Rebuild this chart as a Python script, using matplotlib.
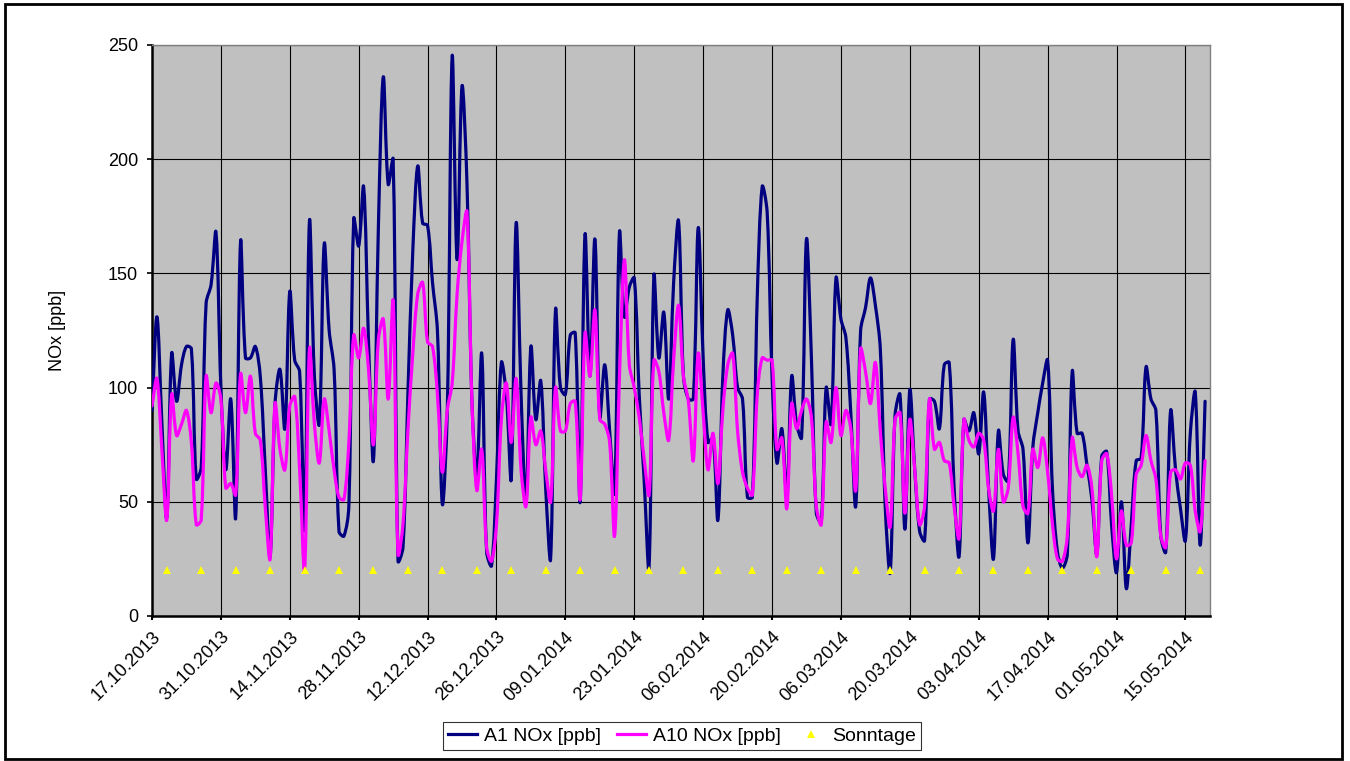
import numpy as np
import pandas as pd
import matplotlib
matplotlib.use('Agg')
import matplotlib.pyplot as plt
import matplotlib.dates as mdates
from matplotlib.path import Path
from matplotlib.patches import PathPatch, Rectangle
from matplotlib.lines import Line2D

plt.rcParams['font.family'] = ['Liberation Sans', 'DejaVu Sans']

# ---------------- data ----------------
start_date = '2013-10-17'

a1_nox = [
    90, 131, 85, 43, 115, 94, 110, 118, 117, 60,
    65, 137, 145, 168, 100, 64, 95, 43, 164, 113,
    113, 118, 105, 65, 26, 93, 108, 82, 142, 112,
    107, 38, 173, 105, 84, 163, 125, 108, 37, 35,
    48, 174, 162, 188, 120, 68, 170, 236, 189, 200,
    24, 30, 97, 160, 197, 172, 171, 146, 125, 49,
    89, 245, 156, 232, 190, 95, 61, 115, 28, 22,
    60, 111, 97, 60, 172, 97, 50, 118, 86, 103,
    56, 25, 134, 100, 97, 123, 124, 50, 167, 105,
    165, 87, 110, 81, 54, 168, 131, 144, 148, 97,
    60, 21, 149, 113, 133, 95, 146, 173, 105, 95,
    95, 170, 113, 76, 78, 42, 105, 134, 123, 100,
    95, 52, 52, 140, 188, 177, 105, 67, 82, 52,
    105, 84, 78, 165, 113, 45, 41, 100, 84, 148,
    130, 122, 89, 48, 125, 135, 148, 136, 117, 48,
    19, 88, 97, 38, 99, 64, 37, 33, 95, 94,
    82, 110, 111, 56, 26, 86, 81, 89, 71, 98,
    56, 25, 81, 62, 59, 121, 81, 73, 32, 74,
    89, 102, 112, 55, 28, 21, 27, 107, 80, 80,
    66, 51, 27, 70, 72, 40, 19, 50, 12, 40,
    68, 69, 109, 95, 90, 35, 28, 90, 64, 47,
    33, 80, 98, 31, 94,
]

a10_nox = [
    92, 104, 73, 42, 97, 79, 84, 90, 76, 40,
    42, 105, 89, 102, 95, 56, 58, 53, 106, 89,
    105, 80, 77, 48, 25, 93, 73, 64, 92, 96,
    64, 20, 117, 84, 67, 95, 81, 64, 52, 51,
    76, 123, 113, 126, 108, 75, 121, 130, 95, 138,
    27, 40, 81, 115, 141, 146, 120, 118, 97, 63,
    90, 102, 141, 164, 177, 95, 55, 73, 30, 24,
    40, 86, 102, 76, 104, 64, 48, 87, 75, 81,
    64, 50, 100, 81, 81, 93, 94, 51, 124, 105,
    134, 86, 84, 76, 35, 105, 156, 110, 100, 87,
    69, 53, 112, 107, 89, 77, 112, 136, 105, 94,
    68, 115, 89, 64, 80, 58, 90, 110, 115, 81,
    63, 56, 53, 97, 113, 112, 112, 73, 78, 47,
    93, 82, 90, 95, 87, 48, 40, 85, 76, 100,
    79, 90, 82, 55, 117, 107, 93, 111, 81, 56,
    39, 86, 89, 45, 86, 64, 40, 48, 95, 73,
    76, 68, 67, 48, 34, 86, 77, 74, 80, 77,
    56, 46, 73, 50, 56, 87, 71, 48, 45, 73,
    65, 78, 63, 40, 25, 24, 35, 78, 65, 61,
    66, 56, 26, 68, 71, 53, 25, 46, 31, 32,
    62, 66, 79, 68, 60, 35, 30, 63, 64, 60,
    67, 66, 46, 37, 68,
]

sunday_level = 20

tick_labels = [
    '17.10.2013', '31.10.2013', '14.11.2013', '28.11.2013', '12.12.2013',
    '26.12.2013', '09.01.2014', '23.01.2014', '06.02.2014', '20.02.2014',
    '06.03.2014', '20.03.2014', '03.04.2014', '17.04.2014', '01.05.2014',
    '15.05.2014',
]
y_ticks = [0, 50, 100, 150, 200, 250]

series_names = ['A1 NOx [ppb]', 'A10 NOx [ppb]', 'Sonntage']
y_label = 'NOx [ppb]'

# ---------------- derived ----------------
dates = pd.date_range(start_date, periods=len(a1_nox), freq='D')
x = mdates.date2num(dates)
tick_pos = mdates.date2num(pd.to_datetime(tick_labels, format='%d.%m.%Y'))
sundays = dates[dates.dayofweek == 6]
xs_sun = mdates.date2num(sundays)

W, H = 1350, 761
L, R, T, B = 152, 1210, 45, 616
X0, X1 = x[0], x[-1] + 1
Y0, Y1 = 0, 250
SX = (R - L) / (X1 - X0)   # pixels per day
SY = (B - T) / (Y1 - Y0)   # pixels per ppb


def smooth_path(xs, ys):
    """Excel-like smoothed line: Bezier segments whose tangent arms are
    weighted by the on-screen segment lengths."""
    pts = np.column_stack([xs, ys]).astype(float)
    n = len(pts)
    scale = np.array([SX, SY])

    def seglen(p, q):
        return np.hypot(*((q - p) * scale))

    out_ctrl = []
    in_ctrl = []
    for i in range(n):
        if i == 0:
            tan = pts[1] - pts[0]
            out_ctrl.append(pts[0] + tan / 3.0)
            in_ctrl.append(pts[0])
            continue
        if i == n - 1:
            tan = pts[i] - pts[i - 1]
            in_ctrl.append(pts[i] - tan / 3.0)
            out_ctrl.append(pts[i])
            continue
        a = seglen(pts[i - 1], pts[i])
        b = seglen(pts[i], pts[i + 1])
        tan = pts[i + 1] - pts[i - 1]
        s = a + b if a + b > 0 else 1.0
        in_ctrl.append(pts[i] - tan * (a / s) / 3.0)
        out_ctrl.append(pts[i] + tan * (b / s) / 3.0)

    verts = [pts[0]]
    codes = [Path.MOVETO]
    for i in range(n - 1):
        verts += [out_ctrl[i], in_ctrl[i + 1], pts[i + 1]]
        codes += [Path.CURVE4] * 3
    return Path(verts, codes)


fig = plt.figure(figsize=(W / 100, H / 100), dpi=100)
fig.patch.set_facecolor('white')

ax = fig.add_axes([L / W, 1 - B / H, (R - L) / W, (B - T) / H])
ax.set_facecolor('#C0C0C0')

navy = '#000080'
magenta = '#FF00FF'
yellow = '#FFFF00'

ax.add_patch(PathPatch(smooth_path(x, a1_nox), fill=False, edgecolor=navy,
                       linewidth=2.3, zorder=3, capstyle='round', joinstyle='round'))
ax.add_patch(PathPatch(smooth_path(x, a10_nox), fill=False, edgecolor=magenta,
                       linewidth=2.3, zorder=4, capstyle='round', joinstyle='round'))
ax.plot(xs_sun, [sunday_level] * len(xs_sun), linestyle='none', marker='^',
        markersize=5.5, color=yellow, markeredgewidth=0, zorder=5)

ax.set_xlim(X0, X1)
ax.set_ylim(Y0, Y1)
ax.set_yticks(y_ticks)
ax.set_xticks(tick_pos)
ax.set_xticklabels(tick_labels, rotation=45, ha='right', va='top',
                   rotation_mode='anchor', fontsize=13)
ax.tick_params(axis='x', direction='out', length=3, width=1.5, pad=6,
               color='black')
ax.tick_params(axis='y', direction='out', length=3.6, width=1.2, pad=6.5,
               labelsize=13, color='black')

ax.grid(True, color='black', linewidth=0.8, zorder=1)
ax.set_axisbelow(True)

for side in ['left', 'bottom']:
    ax.spines[side].set_color('black')
    ax.spines[side].set_linewidth(1.8)
for side in ['top', 'right']:
    ax.spines[side].set_color('#808080')
    ax.spines[side].set_linewidth(1.0)

ax.set_ylabel(y_label, fontsize=13)
ax.yaxis.set_label_coords((66 - L) / (R - L), 0.5)

handles = [
    Line2D([], [], color=navy, linewidth=2.3),
    Line2D([], [], color=magenta, linewidth=2.3),
    Line2D([], [], color=yellow, linestyle='none', marker='^', markersize=6,
           markeredgewidth=0),
]
leg = fig.legend(handles, series_names, loc='center',
                 bbox_to_anchor=(682 / W, 1 - 736 / H), ncol=3,
                 frameon=True, fancybox=False, edgecolor='black',
                 fontsize=14, handlelength=1.5, columnspacing=0.8,
                 borderpad=0.25, handletextpad=0.35, borderaxespad=0)
leg.get_frame().set_linewidth(0.8)

fig.add_artist(Rectangle((5 / W, 1 - 759 / H), (1342 - 5) / W, (759 - 4) / H,
                         transform=fig.transFigure, fill=False,
                         edgecolor='black', linewidth=2.0))

fig.savefig('out.png', dpi=100)
